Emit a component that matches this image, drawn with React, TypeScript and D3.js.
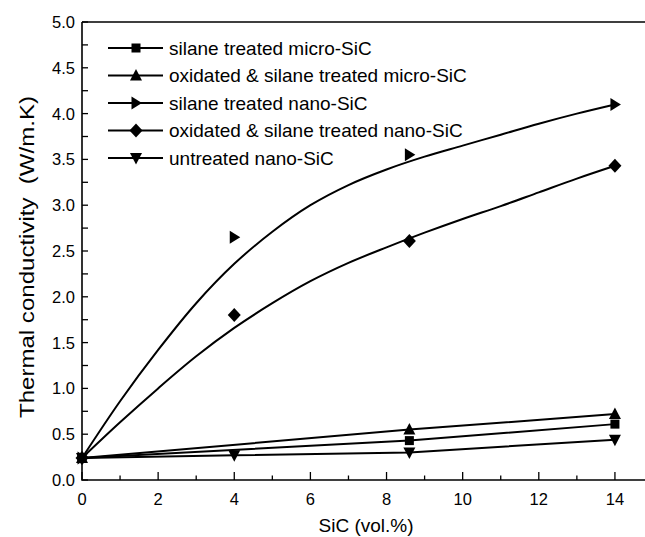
import * as d3 from "d3";

// data
const microX = [0, 8.6, 14];
const silaneMicro = [0.24, 0.43, 0.61];
const oxMicro = [0.24, 0.55, 0.72];
const nanoX = [0, 4, 8.6, 14];
const silaneNano = [0.24, 2.65, 3.55, 4.1];
const oxNano = [0.24, 1.8, 2.61, 3.43];
const untreatedNano = [0.24, 0.27, 0.3, 0.44];
// fitted curves drawn through the nano points
const fitX = [0, 1, 2, 3, 4, 5, 6, 7, 8, 9, 10, 11, 12, 13, 14];
const silaneNanoFit = [0.24, 0.86, 1.42, 1.93, 2.36, 2.71, 3.0, 3.22, 3.39, 3.53, 3.65, 3.77, 3.89, 4.0, 4.1];
const oxNanoFit = [0.24, 0.63, 1.0, 1.35, 1.66, 1.93, 2.17, 2.37, 2.54, 2.7, 2.85, 2.99, 3.14, 3.29, 3.43];

const legendLabels = [
  "silane treated micro-SiC",
  "oxidated & silane treated micro-SiC",
  "silane treated nano-SiC",
  "oxidated & silane treated nano-SiC",
  "untreated nano-SiC",
];
const legendShapes = ["square", "up", "right", "diamond", "down"];
const xTicks = [0, 2, 4, 6, 8, 10, 12, 14];
const yTicks = [0, 0.5, 1, 1.5, 2, 2.5, 3, 3.5, 4, 4.5, 5];

const W = 645;
const H = 537;
const x = d3.scaleLinear().domain([0, 15]).range([82, 653]);
const y = d3.scaleLinear().domain([0, 5]).range([480, 22]);
const font = "'Liberation Sans', Arial, sans-serif";

function marker(shape: string, cx: number, cy: number, key: string) {
  if (shape === "square")
    return <rect key={key} x={cx - 4.5} y={cy - 4.5} width={9} height={9} fill="#000" />;
  let pts: number[][] = [];
  if (shape === "up") pts = [[0, -6.5], [6, 5], [-6, 5]];
  if (shape === "down") pts = [[0, 6.5], [6, -5], [-6, -5]];
  if (shape === "right") pts = [[6, 0], [-4.5, -6.5], [-4.5, 6.5]];
  if (shape === "diamond") pts = [[0, -7], [6.5, 0], [0, 7], [-6.5, 0]];
  return <polygon key={key} points={pts.map(p => `${cx + p[0]},${cy + p[1]}`).join(" ")} fill="#000" />;
}

export default function App() {
  const line = d3.line<[number, number]>().x(d => x(d[0])).y(d => y(d[1]));
  const smooth = d3.line<[number, number]>().x(d => x(d[0])).y(d => y(d[1])).curve(d3.curveCatmullRom);
  const zip = (xs: number[], ys: number[]) => xs.map((v, i) => [v, ys[i]] as [number, number]);

  const series = [
    { xs: microX, ys: silaneMicro, shape: "square" },
    { xs: microX, ys: oxMicro, shape: "up" },
    { xs: nanoX, ys: silaneNano, shape: "right" },
    { xs: nanoX, ys: oxNano, shape: "diamond" },
    { xs: nanoX, ys: untreatedNano, shape: "down" },
  ];

  const minorX = d3.range(0, 16, 1);
  const minorY = d3.range(0, 5.01, 0.25);

  return (
    <svg width={W} height={H} style={{ position: "absolute", left: 0, top: 0 }} fontFamily={font}>
      <rect width={W} height={H} fill="#fff" />
      {/* frame */}
      <path d={`M${x(0)},${y(5)} H${x(15)} M${x(0)},${y(5)} V${y(0)} H${x(15)}`} fill="none" stroke="#000" strokeWidth={1.6} />
      {minorX.map(t => (
        <line key={"mx" + t} x1={x(t)} x2={x(t)} y1={y(0)} y2={y(0) - (t % 2 === 0 ? 8 : 4.5)} stroke="#000" strokeWidth={1.3} />
      ))}
      {minorY.map(t => (
        <line key={"my" + t} x1={x(0)} x2={x(0) + 6} y1={y(t)} y2={y(t)} stroke="#000" strokeWidth={1.3} />
      ))}
      {xTicks.map(t => (
        <text key={"xt" + t} x={x(t)} y={505} fontSize={16.5} textAnchor="middle">{t}</text>
      ))}
      {yTicks.map(t => (
        <text key={"yt" + t} x={75} y={y(t) + 6} fontSize={16.5} textAnchor="end">{t.toFixed(1)}</text>
      ))}
      <text x={366} y={532} fontSize={19} textAnchor="middle">SiC (vol.%)</text>
      <text transform={`translate(34,257) rotate(-90)`} fontSize={21} textAnchor="middle" xmlSpace="preserve"
        textLength={322} lengthAdjust="spacingAndGlyphs">Thermal conductivity  (W/m.K)</text>

      {/* curves */}
      <path d={smooth(zip(fitX, silaneNanoFit)) || ""} fill="none" stroke="#000" strokeWidth={2} />
      <path d={smooth(zip(fitX, oxNanoFit)) || ""} fill="none" stroke="#000" strokeWidth={2} />
      {series.filter(s => s.shape !== "right" && s.shape !== "diamond").map((s, i) => (
        <path key={"l" + i} d={line(zip(s.xs, s.ys)) || ""} fill="none" stroke="#000" strokeWidth={2} />
      ))}
      {series.map((s, i) => s.xs.map((v, j) => marker(s.shape, x(v), y(s.ys[j]), `m${i}-${j}`)))}

      {/* legend */}
      {legendLabels.map((lab, i) => {
        const ly = 48 + i * 27.5;
        return (
          <g key={"lg" + i}>
            <line x1={108} x2={163} y1={ly} y2={ly} stroke="#000" strokeWidth={2} />
            {marker(legendShapes[i], 136, ly, "lm" + i)}
            <text x={169} y={ly + 6.5} fontSize={19}>{lab}</text>
          </g>
        );
      })}
    </svg>
  );
}
